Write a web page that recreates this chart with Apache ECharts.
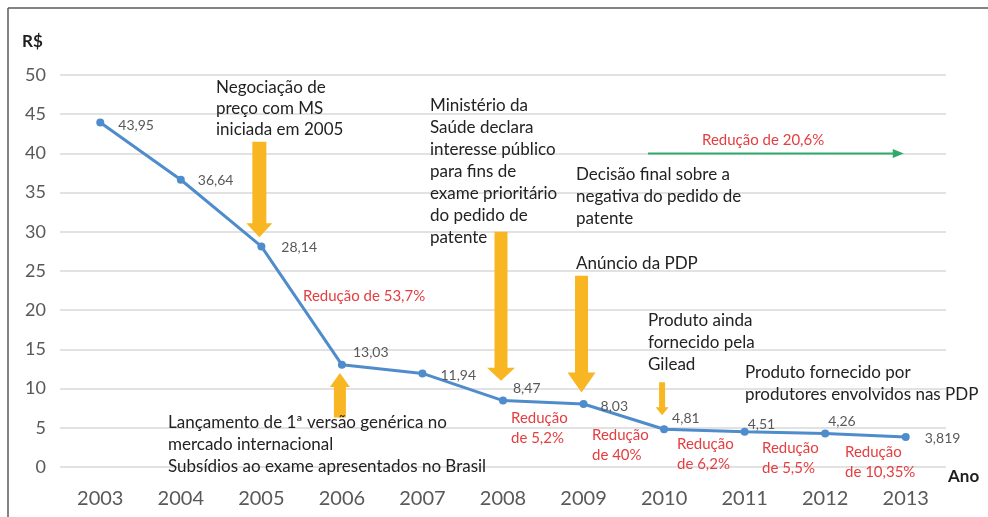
<!DOCTYPE html>
<html>
<head>
<meta charset="utf-8">
<script src="https://cdn.jsdelivr.net/npm/echarts@6/dist/echarts.min.js"></script>
<style>
  html, body { margin: 0; padding: 0; background: #fff; }
  #chart { width: 988px; height: 517px; }
</style>
</head>
<body>
<div id="chart"></div>
<script>
// data
const years = ['2003', '2004', '2005', '2006', '2007', '2008', '2009', '2010', '2011', '2012', '2013'];
const prices = [43.95, 36.64, 28.14, 13.03, 11.94, 8.47, 8.03, 4.81, 4.51, 4.26, 3.819];
const yMin = 0, yMax = 50, yStep = 5;

// label nudges, one per point
const labelOffsets = [[9, 3], [8, 1], [11, 1], [2, -12], [9, 2], [1, -12], [8, 2], [-1, -11], [-6, -7], [-6, -12], [10, 1]];

// orange arrows: category, tail value, tip value
const arrows = [
  { year: '2005', from: 41.5, to: 29.3, shaft: 7, head: 13, len: 14 },
  { year: '2006', from: 6.3, to: 12.0, shaft: 6, head: 10, len: 14 },
  { year: '2008', from: 30.0, to: 11.0, shaft: 6.5, head: 14, len: 13 },
  { year: '2009', from: 24.4, to: 9.5, shaft: 6.5, head: 14, len: 20 },
  { year: '2010', from: 10.8, to: 6.6, shaft: 3, head: 6.5, len: 8 }
];

const BLUE = '#4f8ccb';
const GREY = '#595959';
const RED = '#e53e41';
const ORANGE = '#f8b622';
const GREEN = '#2faa6c';
const FONT = 'Lato';

const chart = echarts.init(document.getElementById('chart'), null, { renderer: 'canvas' });

chart.setOption({
  animation: false,
  backgroundColor: '#fff',
  grid: { left: 60, right: 42, top: 75, bottom: 50 },
  xAxis: {
    type: 'category',
    data: years,
    boundaryGap: true,
    axisLine: { show: false },
    axisTick: { show: false },
    axisLabel: { color: GREY, fontSize: 20, fontFamily: FONT, margin: 22 }
  },
  yAxis: {
    type: 'value',
    min: yMin,
    max: yMax,
    interval: yStep,
    axisLine: { show: false },
    axisTick: { show: false },
    axisLabel: { color: GREY, fontSize: 18, fontFamily: FONT, margin: 14 },
    splitLine: { lineStyle: { color: '#d9d9d9', width: 1.5 } }
  },
  series: [{
    type: 'line',
    data: prices.map((v, i) => ({
      value: v,
      label: { offset: labelOffsets[i] }
    })),
    symbol: 'circle',
    symbolSize: 8,
    lineStyle: { color: BLUE, width: 3 },
    itemStyle: { color: BLUE },
    label: {
      show: true,
      position: 'right',
      color: GREY,
      fontSize: 14,
      fontFamily: FONT,
      formatter: p => String(p.value).replace('.', ',')
    },
    z: 5
  }]
});

// annotations
const px = (cat, val) => chart.convertToPixel({ seriesIndex: 0 }, [cat, val]);

const graphic = [];

// frame
graphic.push({ type: 'line', shape: { x1: 8, y1: 8, x2: 988, y2: 8 }, style: { stroke: '#5a5a5a', lineWidth: 1.5 }, silent: true });
graphic.push({ type: 'line', shape: { x1: 8, y1: 8, x2: 8, y2: 517 }, style: { stroke: '#5a5a5a', lineWidth: 1.5 }, silent: true });

arrows.forEach(a => {
  const t = px(a.year, a.from);
  const h = px(a.year, a.to);
  const x = t[0] - 2;
  const dir = h[1] > t[1] ? 1 : -1;
  const base = h[1] - dir * a.len;
  graphic.push({
    type: 'polygon',
    shape: {
      points: [
        [x - a.shaft, t[1]], [x + a.shaft, t[1]], [x + a.shaft, base],
        [x + a.head, base], [x, h[1]], [x - a.head, base], [x - a.shaft, base]
      ]
    },
    style: { fill: ORANGE },
    z: 10
  });
});

// green arrow from between 2009/2010 to 2013 on the 40 line
const gStart = px('2009', 40);
const gMid = px('2010', 40);
const gEnd = px('2013', 40);
const gx0 = gStart[0] + (gMid[0] - gStart[0]) * 0.8;
const gx1 = gEnd[0] - 2;
graphic.push({ type: 'line', shape: { x1: gx0, y1: gEnd[1], x2: gx1 - 9, y2: gEnd[1] }, style: { stroke: GREEN, lineWidth: 2 }, z: 10 });
graphic.push({ type: 'polygon', shape: { points: [[gx1 - 11, gEnd[1] - 4.5], [gx1, gEnd[1]], [gx1 - 11, gEnd[1] + 4.5]] }, style: { fill: GREEN }, z: 10 });

function txt(text, x, y, size, color, lh, weight) {
  graphic.push({
    type: 'text',
    z: 20,
    style: {
      text: text, x: x, y: y - lh / 2,
      font: (weight || 'normal') + ' ' + size + 'px ' + FONT,
      fill: color, lineHeight: lh, verticalAlign: 'top', align: 'left'
    }
  });
}

const INK = '#222222';
txt('Negociação de\npreço com MS\niniciada em 2005', 216, 88, 17, INK, 21);
txt('Ministério da\nSaúde declara\ninteresse público\npara fins de\nexame prioritário\ndo pedido de\npatente', 430, 106, 17, INK, 22);
txt('Decisão final sobre a\nnegativa do pedido de\npatente', 576, 175, 17, INK, 22);
txt('Anúncio da PDP', 576, 264, 17, INK, 22);
txt('Produto ainda\nfornecido pela\nGilead', 648, 321, 17, INK, 22);
txt('Produto fornecido por\nprodutores envolvidos nas PDP', 745, 373, 17, INK, 22);
txt('Lançamento de 1ª versão genérica no\nmercado internacional\nSubsídios ao exame apresentados no Brasil', 168, 423, 17, INK, 22);

txt('Redução de 53,7%', 303, 296, 15, RED, 20);
txt('Redução de 20,6%', 702, 140, 15, RED, 20);
txt('Redução\nde 5,2%', 511, 418, 15, RED, 20);
txt('Redução\nde 40%', 592, 435, 15, RED, 20);
txt('Redução\nde 6,2%', 677, 444, 15, RED, 20);
txt('Redução\nde 5,5%', 762, 448, 15, RED, 20);
txt('Redução\nde 10,35%', 845, 452, 15, RED, 20);

txt('R$', 22, 42, 17, '#1e1e1e', 20, 'bold');
txt('Ano', 948, 477, 17, '#1e1e1e', 20, 'bold');

chart.setOption({ graphic: graphic });
</script>
</body>
</html>
